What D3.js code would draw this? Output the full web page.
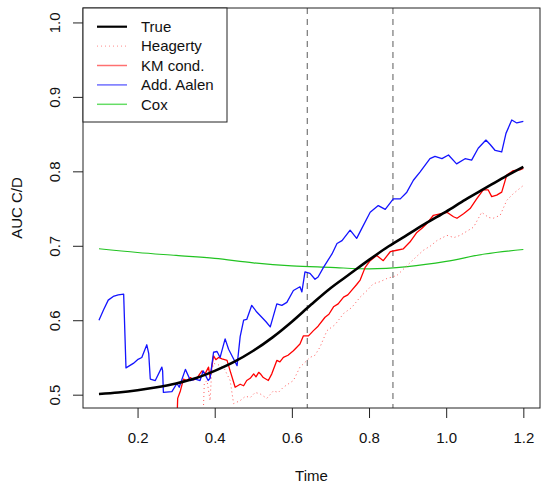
<!DOCTYPE html>
<html>
<head>
<meta charset="utf-8">
<script src="https://cdn.jsdelivr.net/npm/d3@7/dist/d3.min.js"></script>
<style>
  html, body { margin: 0; padding: 0; background: #fff; }
  svg { display: block; font-family: "Liberation Sans", Arial, sans-serif; }
</style>
</head>
<body>
<svg id="chart" width="541" height="483"></svg>
<script>
// Time-dependent AUC (cumulative/dynamic) estimates
const xTicks = [0.2, 0.4, 0.6, 0.8, 1.0, 1.2];
const yTicks = [0.5, 0.6, 0.7, 0.8, 0.9, 1.0];
const markerTimes = [0.640, 0.862];

const seriesNames = ["True", "Heagerty", "KM cond.", "Add. Aalen", "Cox"];

const trueAUC = [
  [0.10, 0.501], [0.15, 0.503], [0.20, 0.506], [0.25, 0.510], [0.30, 0.515],
  [0.35, 0.522], [0.40, 0.532], [0.45, 0.544], [0.50, 0.559], [0.55, 0.577],
  [0.60, 0.598], [0.65, 0.621], [0.70, 0.643], [0.75, 0.662], [0.80, 0.681],
  [0.85, 0.699], [0.90, 0.715], [0.95, 0.731], [1.00, 0.746], [1.05, 0.762],
  [1.10, 0.777], [1.15, 0.792], [1.20, 0.806]
];

const heagerty = [
  [0.370, 0.470], [0.373, 0.515], [0.380, 0.519], [0.388, 0.492], [0.392, 0.530],
  [0.397, 0.542], [0.410, 0.540], [0.423, 0.537], [0.440, 0.519], [0.449, 0.488],
  [0.466, 0.492], [0.480, 0.498], [0.492, 0.496], [0.505, 0.503], [0.518, 0.501],
  [0.535, 0.495], [0.552, 0.505], [0.565, 0.503], [0.578, 0.510], [0.604, 0.519],
  [0.621, 0.537], [0.647, 0.550], [0.660, 0.553], [0.673, 0.564], [0.691, 0.586],
  [0.712, 0.594], [0.734, 0.609], [0.755, 0.617], [0.777, 0.631], [0.795, 0.640],
  [0.811, 0.649], [0.830, 0.652], [0.846, 0.656], [0.872, 0.660], [0.898, 0.673],
  [0.920, 0.684], [0.941, 0.694], [0.960, 0.700], [0.976, 0.707], [1.002, 0.714],
  [1.020, 0.711], [1.036, 0.714], [1.055, 0.720], [1.071, 0.725], [1.092, 0.745],
  [1.110, 0.738], [1.122, 0.737], [1.140, 0.741], [1.157, 0.761], [1.174, 0.770],
  [1.200, 0.781]
];

const kmCond = [
  [0.302, 0.460], [0.304, 0.495], [0.311, 0.505], [0.319, 0.521], [0.328, 0.519],
  [0.337, 0.523], [0.345, 0.520], [0.354, 0.522], [0.360, 0.527], [0.367, 0.532],
  [0.375, 0.528], [0.384, 0.537], [0.388, 0.523], [0.397, 0.552], [0.403, 0.547],
  [0.410, 0.550], [0.419, 0.548], [0.432, 0.546], [0.440, 0.532], [0.453, 0.510],
  [0.466, 0.514], [0.475, 0.512], [0.483, 0.519], [0.492, 0.522], [0.501, 0.528],
  [0.507, 0.524], [0.514, 0.530], [0.520, 0.527], [0.526, 0.523], [0.539, 0.519],
  [0.548, 0.528], [0.561, 0.546], [0.569, 0.544], [0.578, 0.550], [0.590, 0.553],
  [0.604, 0.559], [0.621, 0.568], [0.630, 0.579], [0.643, 0.579], [0.656, 0.586],
  [0.668, 0.592], [0.686, 0.604], [0.696, 0.608], [0.708, 0.618], [0.720, 0.622],
  [0.734, 0.631], [0.745, 0.634], [0.755, 0.640], [0.768, 0.648], [0.777, 0.654],
  [0.790, 0.671], [0.803, 0.680], [0.820, 0.687], [0.837, 0.680], [0.855, 0.692],
  [0.872, 0.694], [0.889, 0.696], [0.906, 0.705], [0.924, 0.718], [0.938, 0.724],
  [0.950, 0.730], [0.967, 0.741], [0.984, 0.743], [1.002, 0.745], [1.019, 0.739],
  [1.028, 0.737], [1.045, 0.743], [1.062, 0.750], [1.079, 0.763], [1.096, 0.775],
  [1.109, 0.775], [1.118, 0.766], [1.131, 0.768], [1.144, 0.772], [1.157, 0.795],
  [1.174, 0.801], [1.191, 0.802], [1.200, 0.804]
];

const addAalen = [
  [0.100, 0.600], [0.112, 0.614], [0.124, 0.627], [0.137, 0.632], [0.150, 0.634],
  [0.164, 0.635], [0.170, 0.536], [0.189, 0.542], [0.200, 0.547], [0.211, 0.550],
  [0.224, 0.567], [0.229, 0.555], [0.233, 0.521], [0.246, 0.519], [0.263, 0.537],
  [0.265, 0.532], [0.267, 0.503], [0.289, 0.504], [0.302, 0.515], [0.308, 0.510],
  [0.324, 0.534], [0.337, 0.519], [0.350, 0.521], [0.362, 0.519], [0.370, 0.532],
  [0.383, 0.519], [0.388, 0.522], [0.397, 0.557], [0.406, 0.558], [0.414, 0.550],
  [0.427, 0.575], [0.436, 0.561], [0.445, 0.552], [0.458, 0.539], [0.466, 0.578],
  [0.475, 0.600], [0.483, 0.601], [0.496, 0.620], [0.509, 0.611], [0.522, 0.604],
  [0.533, 0.598], [0.544, 0.591], [0.561, 0.622], [0.574, 0.620], [0.587, 0.624],
  [0.604, 0.640], [0.621, 0.645], [0.626, 0.638], [0.634, 0.665], [0.647, 0.663],
  [0.660, 0.655], [0.668, 0.658], [0.682, 0.671], [0.693, 0.680], [0.704, 0.689],
  [0.717, 0.703], [0.730, 0.707], [0.751, 0.721], [0.768, 0.710], [0.781, 0.723],
  [0.803, 0.745], [0.824, 0.754], [0.842, 0.749], [0.863, 0.763], [0.881, 0.763],
  [0.898, 0.772], [0.915, 0.788], [0.932, 0.799], [0.958, 0.817], [0.971, 0.820],
  [0.989, 0.817], [1.006, 0.822], [1.027, 0.810], [1.049, 0.817], [1.066, 0.815],
  [1.083, 0.831], [1.103, 0.842], [1.114, 0.836], [1.127, 0.828], [1.144, 0.826],
  [1.155, 0.851], [1.170, 0.869], [1.183, 0.865], [1.200, 0.867]
];

const cox = [
  [0.10, 0.696], [0.20, 0.691], [0.30, 0.687], [0.40, 0.683], [0.50, 0.677],
  [0.60, 0.673], [0.70, 0.671], [0.80, 0.669], [0.90, 0.672], [1.00, 0.679],
  [1.10, 0.689], [1.20, 0.695]
];

const plot = { left: 83, right: 540, top: 8, bottom: 408 };

const x = d3.scaleLinear().domain([0.0586, 1.2432]).range([plot.left, plot.right]);
const y = d3.scaleLinear().domain([0.4821, 1.0194]).range([plot.bottom, plot.top]);

const svg = d3.select("#chart");
const fontSize = 15;

svg.append("defs").append("clipPath").attr("id", "plotClip")
  .append("rect")
  .attr("x", plot.left).attr("y", plot.top)
  .attr("width", plot.right - plot.left).attr("height", plot.bottom - plot.top);

// vertical reference lines
svg.append("g").selectAll("line").data(markerTimes).join("line")
  .attr("x1", d => x(d)).attr("x2", d => x(d))
  .attr("y1", plot.top).attr("y2", plot.bottom)
  .attr("stroke", "#777").attr("stroke-width", 1.2)
  .attr("stroke-dasharray", "6,5");

const line = d3.line().x(d => x(d[0])).y(d => y(d[1]));
const smooth = d3.line().x(d => x(d[0])).y(d => y(d[1])).curve(d3.curveMonotoneX);

const curves = svg.append("g").attr("clip-path", "url(#plotClip)")
  .attr("stroke-linejoin", "round");

curves.append("path").datum(cox).attr("d", smooth)
  .attr("fill", "none").attr("stroke", "#22c322").attr("stroke-width", 1.2);
curves.append("path").datum(heagerty).attr("d", line)
  .attr("fill", "none").attr("stroke", "#ff5a5a").attr("stroke-width", 1)
  .attr("stroke-dasharray", "1,3");
curves.append("path").datum(kmCond).attr("d", line)
  .attr("fill", "none").attr("stroke", "#ff0000").attr("stroke-width", 1.3);
curves.append("path").datum(addAalen).attr("d", line)
  .attr("fill", "none").attr("stroke", "#1414ff").attr("stroke-width", 1.3);
curves.append("path").datum(trueAUC).attr("d", smooth)
  .attr("fill", "none").attr("stroke", "#000").attr("stroke-width", 2.6);

// box
svg.append("rect")
  .attr("x", plot.left).attr("y", plot.top)
  .attr("width", plot.right - plot.left).attr("height", plot.bottom - plot.top)
  .attr("fill", "none").attr("stroke", "#222").attr("stroke-width", 1);

// x axis
const xAxis = d3.axisBottom(x).tickValues(xTicks).tickSize(10).tickPadding(14)
  .tickFormat(d3.format(".1f"));
const gx = svg.append("g").attr("transform", `translate(0,${plot.bottom})`).call(xAxis);
gx.select(".domain").remove();
gx.selectAll(".tick line").attr("stroke", "#222");
gx.selectAll(".tick text").attr("font-size", fontSize).attr("fill", "#111")
  .attr("font-family", "Liberation Sans, Arial, sans-serif");

// y axis with rotated labels
const yAxis = d3.axisLeft(y).tickValues(yTicks).tickSize(10).tickFormat(d3.format(".1f"));
const gy = svg.append("g").attr("transform", `translate(${plot.left},0)`).call(yAxis);
gy.select(".domain").remove();
gy.selectAll(".tick line").attr("stroke", "#222");
gy.selectAll(".tick text")
  .attr("font-size", fontSize).attr("fill", "#111")
  .attr("font-family", "Liberation Sans, Arial, sans-serif")
  .attr("x", null)
  .attr("text-anchor", "middle")
  .attr("transform", "translate(-28,0) rotate(-90)")
  .attr("dy", "0.35em");

// axis titles
svg.append("text")
  .attr("x", (plot.left + plot.right) / 2).attr("y", 481)
  .attr("text-anchor", "middle").attr("font-size", fontSize).attr("fill", "#111")
  .text("Time");
svg.append("text")
  .attr("transform", `translate(22,${(plot.top + plot.bottom) / 2}) rotate(-90)`)
  .attr("text-anchor", "middle").attr("font-size", fontSize).attr("fill", "#111")
  .text("AUC C/D");

// legend
const legendStyles = [
  { color: "#000", width: 2.2, dash: null },
  { color: "#ff8c8c", width: 1, dash: "1,3" },
  { color: "#ff7070", width: 1.5, dash: null },
  { color: "#7070ff", width: 1.5, dash: null },
  { color: "#66dd66", width: 1.5, dash: null }
];
const legend = svg.append("g");
legend.append("rect")
  .attr("x", plot.left).attr("y", plot.top)
  .attr("width", 144).attr("height", 114)
  .attr("fill", "#fff").attr("stroke", "#222").attr("stroke-width", 1);
const rows = legend.selectAll("g.row").data(seriesNames).join("g")
  .attr("class", "row")
  .attr("transform", (d, i) => `translate(0,${26.7 + i * 19.4})`);
rows.append("line")
  .attr("x1", 97).attr("x2", 127).attr("y1", 0).attr("y2", 0)
  .attr("stroke", (d, i) => legendStyles[i].color)
  .attr("stroke-width", (d, i) => legendStyles[i].width)
  .attr("stroke-dasharray", (d, i) => legendStyles[i].dash);
rows.append("text")
  .attr("x", 141).attr("y", 0).attr("dy", "0.35em")
  .attr("font-size", fontSize).attr("fill", "#111")
  .text(d => d);
</script>
</body>
</html>
